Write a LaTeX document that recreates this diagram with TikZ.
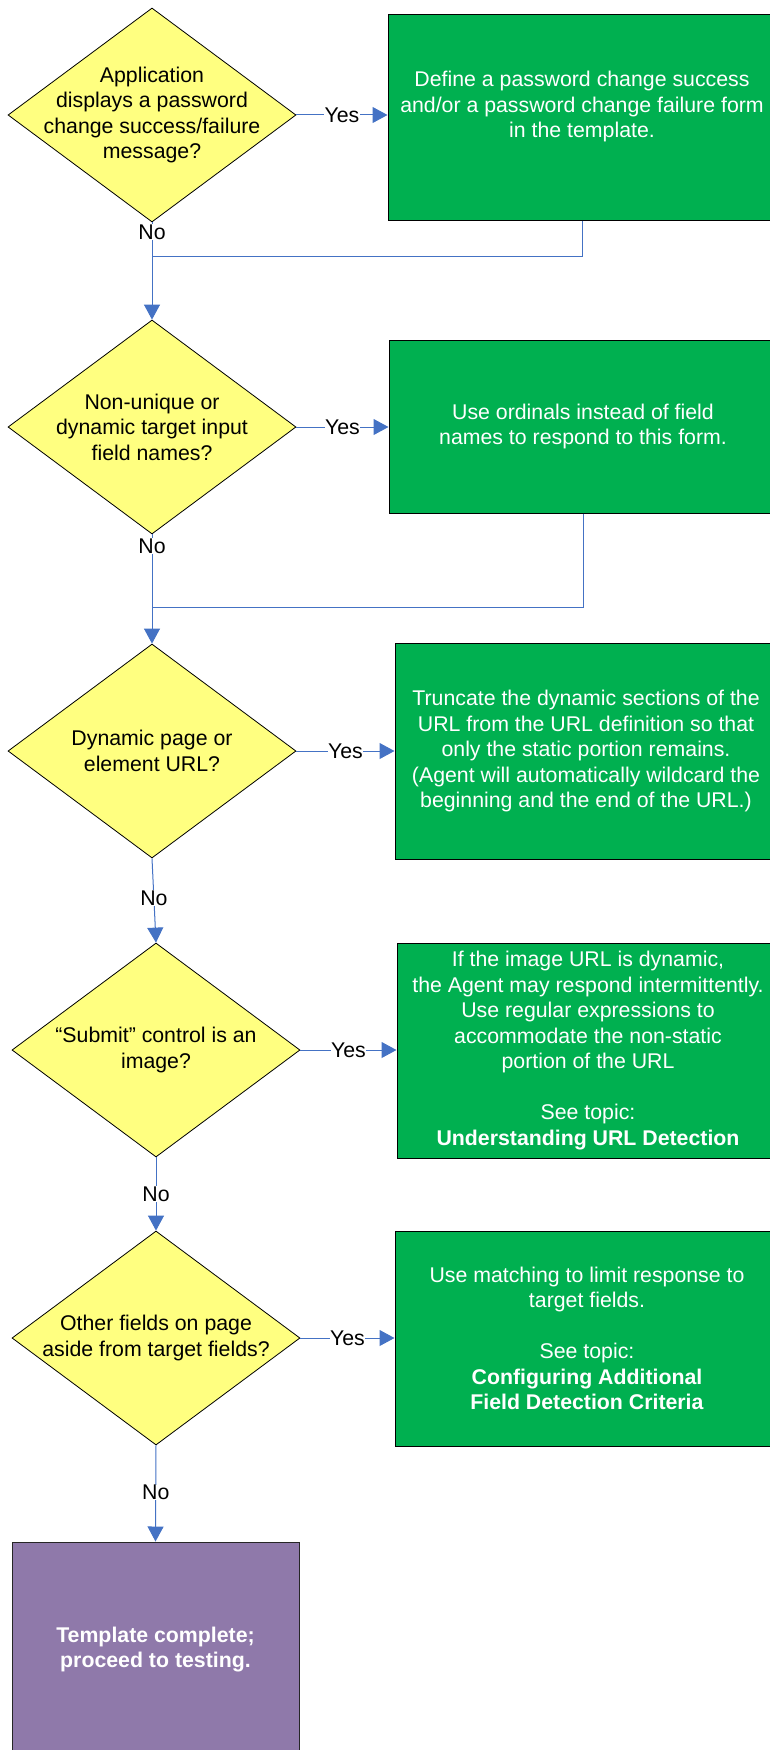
\documentclass[tikz,border=0pt]{standalone}
\usepackage{fontspec}
\setmainfont{Liberation Sans}
\usetikzlibrary{shapes.geometric,arrows.meta}
\definecolor{decyellow}{HTML}{FFFF80}
\definecolor{actgreen}{HTML}{00B050}
\definecolor{endpurple}{HTML}{8F79AA}
\definecolor{connblue}{HTML}{4472C4}
\begin{document}
\begin{tikzpicture}[x=1pt,y=1pt,
  every node/.style={font=\fontsize{21.3pt}{25.5pt}\selectfont},
  decision/.style={shape=diamond, draw=black, line width=0.8pt, fill=decyellow,
    minimum width=288pt, minimum height=214pt, inner sep=0pt},
  dtext/.style={align=center, text=black, inner sep=0pt},
  action/.style={rectangle, draw=black, line width=1pt, fill=actgreen,
    text=white, align=center, inner sep=0pt},
  finish/.style={rectangle, draw=black!85, line width=1pt, fill=endpurple,
    text=white, align=center, inner sep=0pt,
    font=\fontsize{21.3pt}{25pt}\selectfont\bfseries},
  conn/.style={draw=connblue, line width=1pt, -{Triangle[length=15pt,width=16pt]}},
  fb/.style={draw=connblue, line width=1pt},
  lbl/.style={fill=white, inner sep=0.5pt, text=black},
]
\useasboundingbox (0,0) rectangle (770,-1750);
\clip (0,0) rectangle (770,-1750);

% decisions
\node[decision, label={[dtext]center:{Application\\displays a password\\change success/failure\\message?}}] (d1) at (152,-115) {};
\node[decision, label={[dtext]center:{Non-unique or\\dynamic target input\\field names?}}] (d2) at (152,-427) {};
\node[decision, label={[dtext]center:{Dynamic page or\\element URL?}}] (d3) at (152,-751) {};
\node[decision, label={[dtext]center:{“Submit” control is an\\image?}}] (d4) at (156,-1050) {};
\node[decision, label={[dtext]center:{Other fields on page\\aside from target fields?}}] (d5) at (156,-1338) {};

% actions
\node[action, minimum width=388pt, minimum height=205pt] (g1) at (582,-117.5)
  {Define a password change success\\and/or a password change failure form\\in the template.\\\mbox{}};
\node[action, minimum width=388pt, minimum height=173pt] (g2) at (583,-426.5)
  {Use ordinals instead of field\\names to respond to this form.};
\node[action, minimum width=382pt, minimum height=216pt] (g3) at (586,-751)
  {Truncate the dynamic sections of the\\URL from the URL definition so that\\only the static portion remains.\\(Agent will automatically wildcard the\\beginning and the end of the URL.)};
\node[action, minimum width=382pt, minimum height=215pt] (g4) at (588,-1050.5)
  {If the image URL is dynamic,\\the Agent may respond intermittently.\\Use regular expressions to\\accommodate the non-static\\portion of the URL\\[25.5pt]See topic:\\\textbf{Understanding URL Detection}};
\node[action, minimum width=384pt, minimum height=215pt] (g5) at (587,-1338.5)
  {Use matching to limit response to\\target fields.\\[25.5pt]See topic:\\\textbf{Configuring Additional}\\\textbf{Field Detection Criteria}};

% end
\node[finish, minimum width=287pt, minimum height=215pt] (p) at (155.5,-1649.5)
  {Template complete;\\proceed to testing.};

% junctions
\coordinate (j1) at (152,-256);
\coordinate (j2) at (152,-607);

% yes connectors
\draw[conn] (d1.east) -- node[lbl] (y1) {Yes} (d1.east -| g1.west);
\draw[conn] (d2.east) -- node[lbl] (y2) {Yes} (d2.east -| g2.west);
\draw[conn] (d3.east) -- node[lbl] (y3) {Yes} (d3.east -| g3.west);
\draw[conn] (d4.east) -- node[lbl] (y4) {Yes} (d4.east -| g4.west);
\draw[conn] (d5.east) -- node[lbl] (y5) {Yes} (d5.east -| g5.west);

% no connectors
\draw[conn] (d1.south) -- node[lbl,pos=0.1] (n1) {No} (d2.north);
\draw[conn] (d2.south) -- node[lbl,pos=0.11] (n2) {No} (d3.north);
\draw[conn] (d3.south) -- node[lbl,pos=0.47] (n3) {No} (d4.north);
\draw[conn] (d4.south) -- node[lbl,pos=0.5] (n4) {No} (d5.north);
\draw[conn] (d5.south) -- node[lbl,pos=0.49] (n5) {No} (p.north);

% feedback lines
\draw[fb] (g1.south) |- (j1);
\draw[fb] (g2.south) |- (j2);
\end{tikzpicture}
\end{document}
